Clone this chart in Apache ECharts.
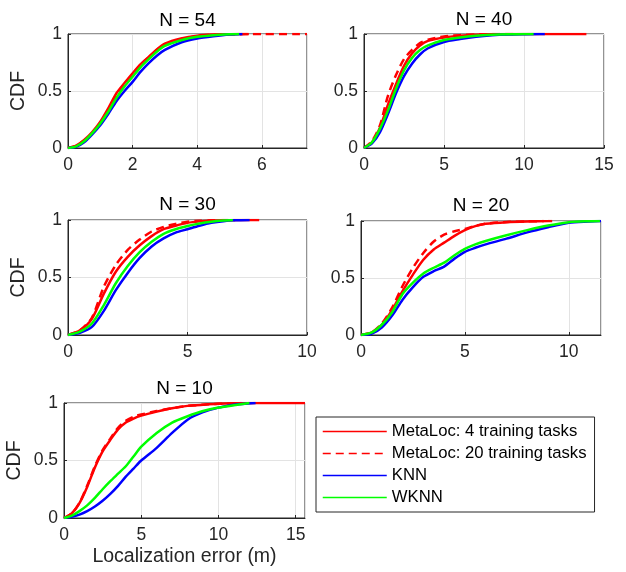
<!DOCTYPE html>
<html>
<head>
<meta charset="utf-8">
<script src="https://cdn.jsdelivr.net/npm/echarts@6/dist/echarts.min.js"></script>
<style>
html,body{margin:0;padding:0;background:#fff;}
#chart{width:626px;height:572px;}
</style>
</head>
<body>
<div id="chart"></div>
<script>
// ---- Data ----
const seriesNames = ['MetaLoc: 4 training tasks', 'MetaLoc: 20 training tasks', 'KNN', 'WKNN'];
const panelTitles = ['N = 54', 'N = 40', 'N = 30', 'N = 20', 'N = 10'];
const xMaxes = [7.4, 15, 10, 11.55, 15.6];
const xIntervals = [2, 5, 5, 5, 5];
const yTickValues = [0, 0.5, 1];
const xAxisLabel = 'Localization error (m)';
const yAxisLabel = 'CDF';

// N = 54
const n54_x = [0,0.25,0.5,0.75,1,1.25,1.5,1.75,2,2.25,2.5,2.75,3,3.5,4,4.5,5,5.5,6,7];
const n54_meta4 = [0,0.02,0.07,0.14,0.23,0.35,0.48,0.57,0.655,0.735,0.80,0.865,0.915,0.96,0.985,0.995,0.998];
const n54_meta20 = [0,0.02,0.065,0.13,0.22,0.33,0.46,0.56,0.645,0.73,0.795,0.86,0.91,0.955,0.98,0.993,0.997,0.999,1,1];
const n54_knn = [0,0.01,0.05,0.12,0.2,0.3,0.41,0.5,0.58,0.67,0.745,0.81,0.86,0.925,0.96,0.98,0.995];
const n54_wknn = [0,0.015,0.06,0.13,0.215,0.32,0.44,0.54,0.625,0.71,0.78,0.845,0.895,0.945,0.975,0.99,0.998];
const n54_end = [5.6, 7.4, 5.4, 5.3];

// N = 40
const n40_x = [0,0.5,1,1.5,2,2.5,3,3.5,4,5,6,7,8,9,10,11,12,13];
const n40_meta4 = [0,0.05,0.18,0.38,0.56,0.72,0.83,0.9,0.94,0.97,0.985,0.993,0.997,0.999,0.999,1,1,1];
const n40_meta20 = [0,0.06,0.2,0.46,0.64,0.78,0.86,0.92,0.95,0.978,0.99,0.996,0.999];
const n40_knn = [0,0.04,0.14,0.3,0.48,0.63,0.74,0.82,0.875,0.93,0.955,0.975,0.988,0.995,0.998,1];
const n40_wknn = [0,0.05,0.17,0.33,0.52,0.68,0.79,0.86,0.90,0.947,0.97,0.985,0.993,0.997,0.999];
const n40_end = [13.9, 9.5, 11.3, 10.6];

// N = 30
const n30_x = [0,0.5,1,1.5,2,2.5,3,3.5,4,4.5,5,5.5,6,6.5,7,7.5];
const n30_meta4 = [0,0.04,0.14,0.36,0.55,0.68,0.78,0.86,0.92,0.95,0.975,0.988,0.995,0.998,0.999,1];
const n30_meta20 = [0,0.04,0.15,0.42,0.61,0.74,0.83,0.9,0.94,0.965,0.985,0.993,0.997,0.999];
const n30_knn = [0,0.02,0.07,0.21,0.39,0.54,0.67,0.77,0.84,0.89,0.92,0.95,0.975,0.99,0.997];
const n30_wknn = [0,0.03,0.1,0.26,0.45,0.6,0.72,0.81,0.88,0.92,0.948,0.97,0.985,0.995];
const n30_end = [8.0, 7.0, 7.6, 6.9];

// N = 20
const n20_x = [0,0.5,1,1.5,2,2.5,3,3.5,4,4.5,5,5.5,6,7,8,9,10,11];
const n20_meta4 = [0,0.02,0.09,0.22,0.385,0.53,0.66,0.75,0.81,0.87,0.92,0.955,0.975,0.99,0.996,0.999];
const n20_meta20 = [0,0.02,0.1,0.24,0.43,0.59,0.72,0.82,0.88,0.91,0.93,0.957,0.977,0.991,0.997];
const n20_knn = [0,0.01,0.065,0.17,0.31,0.42,0.51,0.56,0.60,0.67,0.73,0.765,0.795,0.845,0.90,0.945,0.985,0.995];
const n20_wknn = [0,0.02,0.09,0.2,0.36,0.46,0.54,0.59,0.635,0.70,0.755,0.795,0.825,0.875,0.92,0.96,0.99,0.998];
const n20_end = [9.2, 8.8, 11.55, 11.5];

// N = 10
const n10_x = [0,0.5,1,1.5,2,2.5,3,3.5,4,4.5,5,6,7,8,9,10,11,12,13,14,15];
const n10_meta4 = [0,0.04,0.13,0.27,0.44,0.58,0.68,0.77,0.83,0.865,0.89,0.925,0.955,0.975,0.985,0.993,0.997,0.999,1,1,1];
const n10_meta20 = [0,0.04,0.13,0.28,0.45,0.59,0.69,0.785,0.845,0.88,0.9,0.93,0.955,0.975,0.985,0.993,0.997];
const n10_knn = [0,0.01,0.03,0.06,0.1,0.15,0.21,0.28,0.36,0.43,0.5,0.61,0.74,0.855,0.92,0.96,0.985];
const n10_wknn = [0,0.02,0.06,0.11,0.175,0.25,0.32,0.385,0.45,0.535,0.62,0.74,0.83,0.885,0.93,0.96,0.98];
const n10_end = [15.6, 11.5, 12.4, 12.0];

const panels = [
  {x: n54_x, ys: [n54_meta4, n54_meta20, n54_knn, n54_wknn], ends: n54_end},
  {x: n40_x, ys: [n40_meta4, n40_meta20, n40_knn, n40_wknn], ends: n40_end},
  {x: n30_x, ys: [n30_meta4, n30_meta20, n30_knn, n30_wknn], ends: n30_end},
  {x: n20_x, ys: [n20_meta4, n20_meta20, n20_knn, n20_wknn], ends: n20_end},
  {x: n10_x, ys: [n10_meta4, n10_meta20, n10_knn, n10_wknn], ends: n10_end}
];

// ---- Layout / style ----
const gridBoxes = [
  {left: 68, top: 34, width: 239, height: 114},
  {left: 364, top: 34, width: 240, height: 114},
  {left: 68, top: 220, width: 239, height: 115},
  {left: 361, top: 221, width: 240, height: 114},
  {left: 64, top: 403, width: 241, height: 115}
];
const titleTops = [11, 10, 195, 196, 379];
const colors = ['#ff0000', '#ff0000', '#0000ff', '#00ff00'];
const lineTypes = ['solid', [8, 5], 'solid', 'solid'];
const FONT = 'Liberation Sans, Arial, Helvetica, sans-serif';
const AX = '#262626';
const TICK_FS = 17.5, TITLE_FS = 19, NAME_FS = 19.5, LEGEND_FS = 16.7;

const grids = [], xAxes = [], yAxes = [], series = [], titles = [];
gridBoxes.forEach((g, i) => {
  grids.push(Object.assign({show: true, borderColor: AX, borderWidth: 1, backgroundColor: 'transparent', containLabel: false}, g));
  titles.push({
    text: panelTitles[i], left: g.left + g.width / 2, top: titleTops[i], textAlign: 'center', padding: 0,
    textStyle: {fontSize: TITLE_FS, fontWeight: 'normal', color: '#000', fontFamily: FONT}
  });
  const notMultiple = Math.abs(xMaxes[i] / xIntervals[i] - Math.round(xMaxes[i] / xIntervals[i])) > 1e-6;
  xAxes.push({
    type: 'value', gridIndex: i, min: 0, max: xMaxes[i], interval: xIntervals[i],
    axisLine: {show: true, lineStyle: {color: AX, width: 1}},
    axisTick: {show: true, inside: true, length: 3, lineStyle: {color: AX}},
    axisLabel: {fontSize: TICK_FS, color: AX, margin: 8, fontFamily: FONT, showMaxLabel: !notMultiple},
    splitLine: {show: true, lineStyle: {color: '#e3e3e3', width: 1}},
    name: i === 4 ? xAxisLabel : '', nameLocation: 'middle', nameGap: 29,
    nameTextStyle: {fontSize: NAME_FS, color: AX, fontFamily: FONT}
  });
  yAxes.push({
    type: 'value', gridIndex: i, min: yTickValues[0], max: yTickValues[yTickValues.length - 1], interval: yTickValues[1] - yTickValues[0],
    axisLine: {show: true, lineStyle: {color: AX, width: 1}},
    axisTick: {show: true, inside: true, length: 3, lineStyle: {color: AX}},
    axisLabel: {fontSize: TICK_FS, color: AX, margin: 6, fontFamily: FONT},
    splitLine: {show: true, lineStyle: {color: '#e3e3e3', width: 1}},
    name: (i % 2 === 0) ? yAxisLabel : '', nameLocation: 'middle', nameGap: 39,
    nameTextStyle: {fontSize: NAME_FS, color: AX, fontFamily: FONT}
  });
  const p = panels[i];
  p.ys.forEach((ys, k) => {
    const pts = ys.map((v, j) => [p.x[j], v]);
    pts.push([p.ends[k], 1]);
    series.push({
      type: 'line', name: seriesNames[k], xAxisIndex: i, yAxisIndex: i,
      data: pts, symbol: 'none', showSymbol: false, smooth: 0.25, animation: false,
      lineStyle: {color: colors[k], width: 2.5, type: lineTypes[k]},
      itemStyle: {color: colors[k]}, z: 2 + k
    });
  });
});

const chart = echarts.init(document.getElementById('chart'), null, {renderer: 'canvas'});
chart.setOption({
  backgroundColor: '#fff',
  animation: false,
  textStyle: {fontFamily: FONT},
  title: titles,
  grid: grids,
  xAxis: xAxes,
  yAxis: yAxes,
  legend: {
    orient: 'vertical', left: 316, top: 417,
    itemWidth: 64, itemHeight: 14, itemGap: 5,
    padding: [6, 8, 6, 6],
    borderColor: AX, borderWidth: 1, backgroundColor: '#fff',
    textStyle: {fontSize: LEGEND_FS, color: '#000', fontFamily: FONT},
    itemStyle: {opacity: 0},
    lineStyle: {width: 1.5},
    selectedMode: false,
    data: seriesNames
  },
  series: series
});
</script>
</body>
</html>
